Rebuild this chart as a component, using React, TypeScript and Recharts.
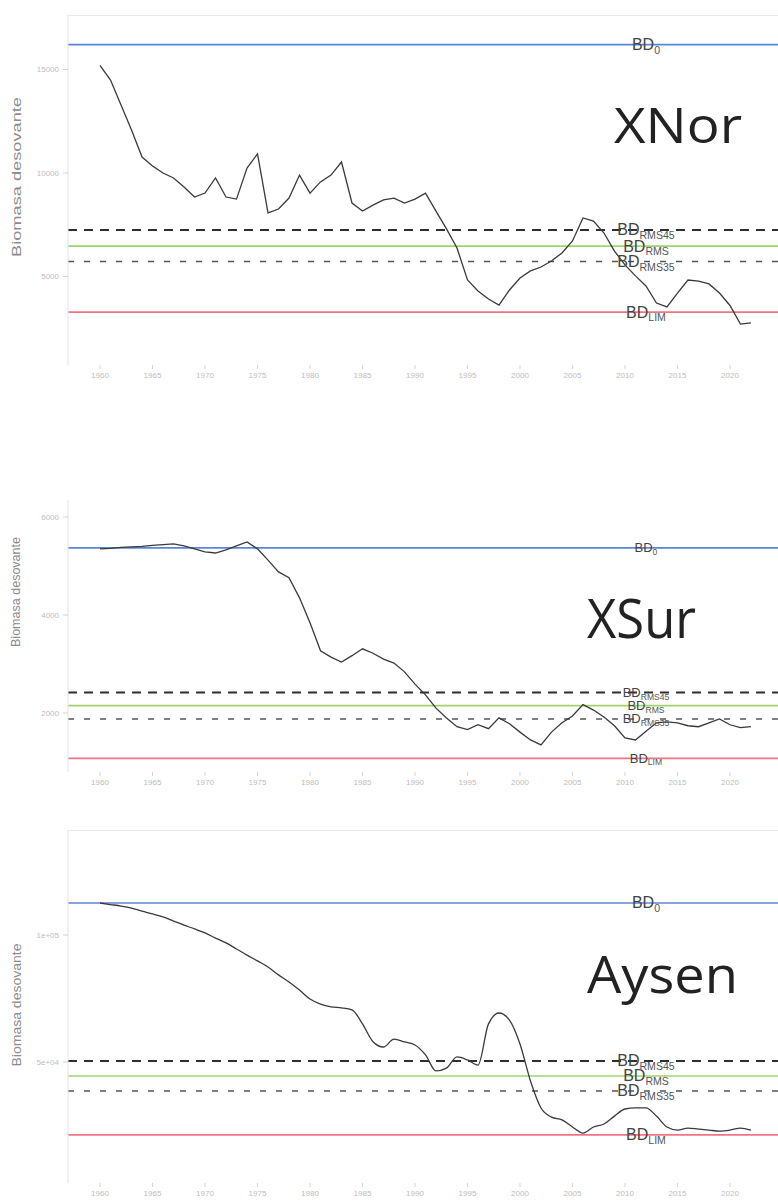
import React from "react";
import { LineChart, Line, XAxis, YAxis, ReferenceLine, ReferenceDot } from "recharts";

// years of the assessment (spawning biomass, t)
const years = [
  1960, 1961, 1962, 1963, 1964, 1965, 1966, 1967, 1968, 1969,
  1970, 1971, 1972, 1973, 1974, 1975, 1976, 1977, 1978, 1979,
  1980, 1981, 1982, 1983, 1984, 1985, 1986, 1987, 1988, 1989,
  1990, 1991, 1992, 1993, 1994, 1995, 1996, 1997, 1998, 1999,
  2000, 2001, 2002, 2003, 2004, 2005, 2006, 2007, 2008, 2009,
  2010, 2011, 2012, 2013, 2014, 2015, 2016, 2017, 2018, 2019,
  2020, 2021, 2022,
];

const xnorBiomass = [
  15200, 14490, 13280, 12080, 10770, 10340, 10000, 9760, 9320, 8840,
  9030, 9760, 8840, 8740, 10240, 10920, 8070, 8260, 8790, 9900,
  9030, 9570, 9900, 10530, 8550, 8160, 8450, 8700, 8790, 8550,
  8740, 9030, 8160, 7300, 6380, 4830, 4300, 3910, 3620, 4350,
  4930, 5270, 5460, 5750, 6140, 6720, 7830, 7680, 7100, 6230,
  5560, 5030, 4540, 3720, 3530, 4200, 4830, 4780, 4640, 4200,
  3600, 2700, 2760,
];

const xsurBiomass = [
  5350, 5360, 5380, 5390, 5400, 5420, 5435, 5450, 5410, 5350,
  5290, 5265, 5330, 5410, 5490, 5350, 5120, 4880, 4760, 4350,
  3840, 3270, 3140, 3040, 3170, 3310, 3220, 3100, 3020, 2840,
  2590, 2370, 2100, 1900, 1720, 1660, 1760, 1680, 1900, 1780,
  1610, 1450, 1350, 1610, 1800, 1940, 2170, 2060, 1920, 1740,
  1490, 1450, 1630, 1800, 1820, 1800, 1740, 1720, 1800, 1880,
  1760, 1700, 1720,
];

const aysenBiomass = [
  112600, 112000, 111400, 110600, 109400, 108300, 107100, 105500, 103900, 102400,
  100800, 98800, 96900, 94500, 92100, 89800, 87400, 84300, 81500, 78300,
  74800, 72800, 71700, 71300, 70500, 65000, 58000, 55900, 59000, 57900,
  56700, 52800, 46500, 47600, 52000, 50800, 48800, 65000, 69300, 66500,
  57100, 42500, 31900, 28300, 27200, 24400, 22000, 24400, 25600, 28700,
  31500, 31900, 31900, 28700, 24400, 23200, 24000, 23600, 23200, 22800,
  23200, 24000, 23200,
];

// reference points: BD0, BD_RMS45, BD_RMS, BD_RMS35, BD_LIM
const refSubs = ["0", "RMS45", "RMS", "RMS35", "LIM"];
const xnorRefs = [16200, 7250, 6470, 5720, 3280];
const xsurRefs = [5370, 2420, 2150, 1880, 1075];
const aysenRefs = [112600, 50400, 44500, 38600, 21300];

const yearTicks = [1960, 1965, 1970, 1975, 1980, 1985, 1990, 1995, 2000, 2005, 2010, 2015, 2020];
const xnorTicks = [5000, 10000, 15000];
const xsurTicks = [2000, 4000, 6000];
const aysenTicks = [50000, 100000];
const aysenTickText: Record<number, string> = { 50000: "5e+04", 100000: "1e+05" };

const LABEL_YEAR = 2012;
const X_DOMAIN: [number, number] = [1956.95, 2026.67];

const refStyles = [
  { stroke: "#5a86d6", strokeWidth: 1.6 },
  { stroke: "#2f2f2f", strokeWidth: 2, strokeDasharray: "9 7" },
  { stroke: "#9fd46c", strokeWidth: 1.6 },
  { stroke: "#555555", strokeWidth: 1.5, strokeDasharray: "6 10" },
  { stroke: "#ef7583", strokeWidth: 1.6 },
];

function BdTag(props: any) {
  const { viewBox, sub, size } = props;
  if (!viewBox) return null;
  const cx = viewBox.x + (viewBox.width || 0) / 2;
  const cy = viewBox.y + (viewBox.height || 0) / 2;
  return (
    <text
      x={cx}
      y={cy}
      textAnchor="middle"
      dominantBaseline="central"
      fill="#444"
      fontSize={size}
      fontFamily="'Liberation Sans', Arial, sans-serif"
    >
      BD
      <tspan fontSize={size * 0.66} dy={size * 0.32} fill="#555">
        {sub}
      </tspan>
    </text>
  );
}

type PanelProps = {
  top: number;
  plotHeight: number;
  values: number[];
  refs: number[];
  yDomain: [number, number];
  yTicks: number[];
  fmt?: (v: number) => string;
  smooth?: boolean;
  frame?: boolean;
  tagSize: number;
};

function StockPanel({ top, plotHeight, values, refs, yDomain, yTicks, fmt, smooth, frame, tagSize }: PanelProps) {
  const data = years.map((year, i) => ({ year, biomass: values[i] }));
  const tickStyle = { fontSize: 8, fill: "#bdbdbd", fontFamily: "'Liberation Sans', Arial, sans-serif" };
  return (
    <div style={{ position: "absolute", left: 0, top, width: 800, height: plotHeight + 30 }}>
      <LineChart width={800} height={plotHeight + 30} data={data} margin={{ top: 0, right: 0, bottom: 0, left: 0 }}>
        <XAxis
          dataKey="year"
          type="number"
          domain={X_DOMAIN}
          allowDataOverflow
          ticks={yearTicks}
          height={30}
          tick={tickStyle}
          tickSize={4}
          tickMargin={3}
          axisLine={false}
          tickLine={{ stroke: "#d4d4d4" }}
        />
        <YAxis
          type="number"
          domain={yDomain}
          allowDataOverflow
          ticks={yTicks}
          width={68}
          tick={tickStyle}
          tickSize={5}
          tickMargin={4}
          tickFormatter={fmt}
          axisLine={{ stroke: "#e2e2e2" }}
          tickLine={{ stroke: "#d4d4d4" }}
        />
        {frame && <ReferenceLine y={yDomain[1]} stroke="#d6d6d6" strokeWidth={1} />}
        {refs.map((v, i) => (
          <ReferenceLine key={refSubs[i]} y={v} {...refStyles[i]} />
        ))}
        <Line
          type={smooth ? "monotone" : "linear"}
          dataKey="biomass"
          stroke="#3a3a3a"
          strokeWidth={1.3}
          dot={false}
          isAnimationActive={false}
        />
        {refs.map((v, i) => (
          <ReferenceDot
            key={"tag" + refSubs[i]}
            x={LABEL_YEAR}
            y={v}
            r={0}
            stroke="none"
            fill="none"
            label={<BdTag sub={refSubs[i]} size={tagSize} />}
          />
        ))}
      </LineChart>
    </div>
  );
}

const titleFont = "'Open Sans', 'Noto Sans', sans-serif";

export default function App() {
  return (
    <div
      style={{
        position: "absolute",
        left: 0,
        top: 0,
        width: 778,
        height: 1204,
        overflow: "hidden",
        background: "#fff",
      }}
    >
      <StockPanel
        top={15}
        plotHeight={350}
        values={xnorBiomass}
        refs={xnorRefs}
        yDomain={[725, 17633]}
        yTicks={xnorTicks}
        frame
        tagSize={16}
      />
      <StockPanel
        top={500}
        plotHeight={272}
        values={xsurBiomass}
        refs={xsurRefs}
        yDomain={[796, 6347]}
        yTicks={xsurTicks}
        tagSize={13}
      />
      <StockPanel
        top={830}
        plotHeight={353}
        values={aysenBiomass}
        refs={aysenRefs}
        yDomain={[2362, 141339]}
        yTicks={aysenTicks}
        fmt={(v) => aysenTickText[v] ?? String(v)}
        smooth
        frame
        tagSize={16}
      />
      <svg
        width={778}
        height={1204}
        style={{ position: "absolute", left: 0, top: 0, pointerEvents: "none" }}
      >
        <g fontFamily="'Liberation Sans', Arial, sans-serif" fill="#8c8c8c" fontSize={12}>
          <text transform="translate(21,177) rotate(-90)" textAnchor="middle" textLength={160} lengthAdjust="spacingAndGlyphs">
            Biomasa desovante
          </text>
          <text transform="translate(20,592) rotate(-90)" textAnchor="middle" textLength={110} lengthAdjust="spacingAndGlyphs">
            Biomasa desovante
          </text>
          <text transform="translate(21,1005) rotate(-90)" textAnchor="middle" textLength={123} lengthAdjust="spacingAndGlyphs">
            Biomasa desovante
          </text>
        </g>
        <g fontFamily={titleFont} fill="#222">
          <text x={614} y={143} fontSize={50} textLength={128} lengthAdjust="spacingAndGlyphs">
            XNor
          </text>
          <text x={587} y={638} fontSize={54} textLength={109} lengthAdjust="spacingAndGlyphs">
            XSur
          </text>
          <text x={587} y={993} fontSize={52} textLength={151} lengthAdjust="spacingAndGlyphs">
            Aysen
          </text>
        </g>
      </svg>
    </div>
  );
}
